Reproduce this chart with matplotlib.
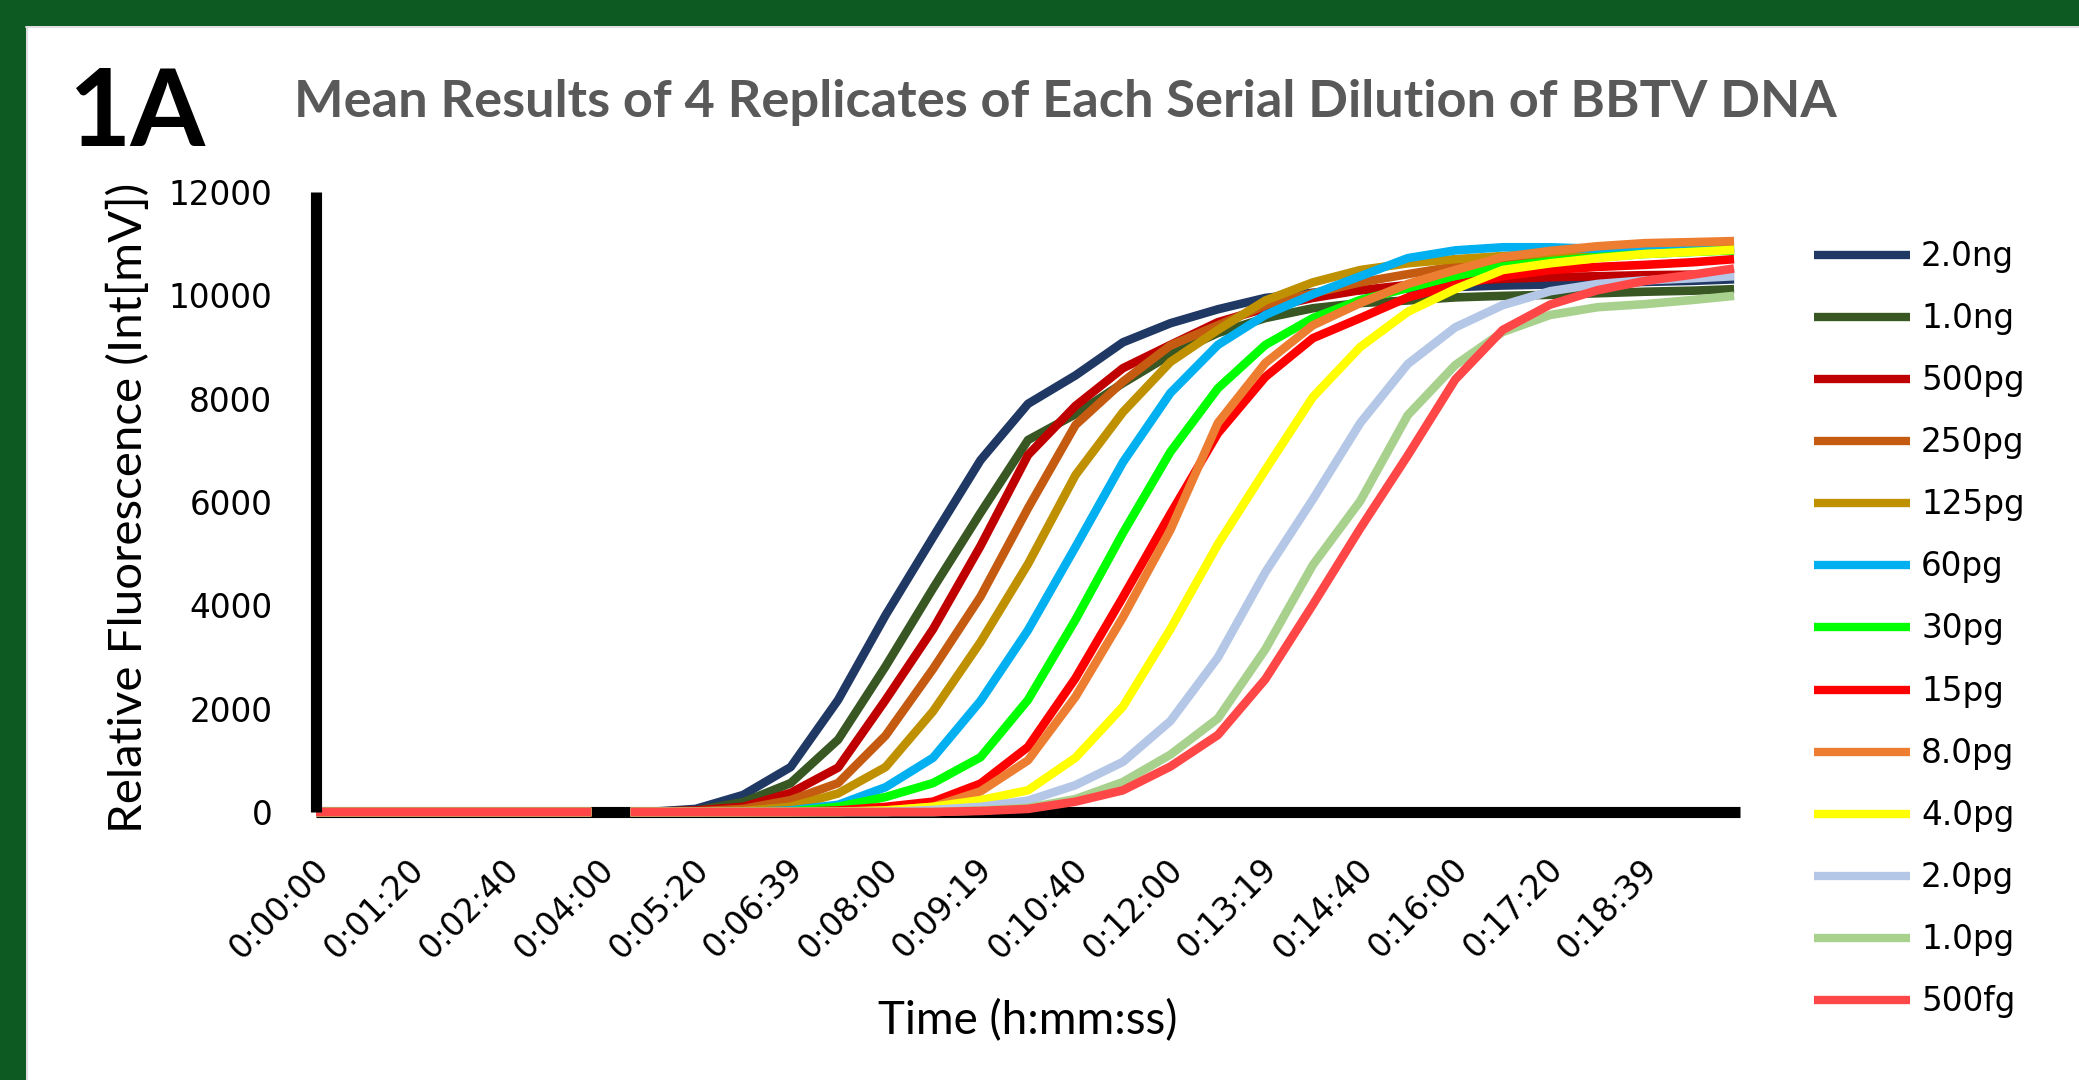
import numpy as np
import matplotlib
matplotlib.use("Agg")
import matplotlib.pyplot as plt
from matplotlib.transforms import ScaledTranslation
from matplotlib.lines import Line2D
from matplotlib.patches import Rectangle

nan = np.nan

# ---------------- data ----------------
time_s = [0, 40, 80, 120, 160, 200, 232, 248, 265, 280, 320, 360, 400, 440, 480,
          520, 560, 600, 640, 680, 720, 760, 800, 840, 880, 920, 960, 1000, 1040,
          1080, 1120, 1160, 1195]

s_2ng = [0, 0, 0, 0, 0, 0, 0, nan, 0, 0, 60, 330, 870, 2170, 3810, 5320, 6810, 7900, 8450,
         9090, 9460, 9730, 9950, 10050, 10100, 10130, 10160, 10190, 10210, 10240, 10260, 10280, 10310]
s_1ng = [0, 0, 0, 0, 0, 0, 0, nan, 0, 0, 30, 190, 560, 1400, 2820, 4330, 5790, 7200, 7700,
         8300, 8850, 9270, 9560, 9750, 9850, 9900, 9960, 9990, 10010, 10040, 10070, 10090, 10120]
s_500pg = [0, 0, 0, 0, 0, 0, 0, nan, 0, 0, 30, 100, 370, 860, 2170, 3540, 5150, 6910, 7860,
           8590, 9040, 9480, 9750, 9950, 10100, 10200, 10270, 10320, 10350, 10370, 10390, 10400, 10410]
s_250pg = [0, 0, 0, 0, 0, 0, 0, nan, 0, 0, 10, 60, 230, 560, 1480, 2770, 4170, 5880, 7490,
           8330, 9030, 9420, 9810, 10040, 10250, 10410, 10560, 10660, 10740, 10800, 10840, 10870, 10900]
s_125pg = [0, 0, 0, 0, 0, 0, 0, nan, 0, 0, 0, 20, 100, 360, 870, 1950, 3290, 4800, 6520,
           7740, 8710, 9330, 9900, 10250, 10490, 10620, 10700, 10760, 10820, 10860, 10890, 10920, 10950]
s_60pg = [0, 0, 0, 0, 0, 0, 0, nan, 0, 0, 0, 0, 30, 140, 480, 1050, 2150, 3520, 5130,
          6770, 8110, 9040, 9620, 10020, 10370, 10720, 10870, 10930, 10930, 10900, 10880, 10870, 10860]
s_30pg = [0, 0, 0, 0, 0, 0, 0, nan, 0, 0, 0, 0, 10, 100, 290, 560, 1060, 2170, 3720,
          5400, 6970, 8200, 9040, 9560, 9910, 10140, 10370, 10560, 10660, 10740, 10800, 10840, 10870]
s_15pg = [0, 0, 0, 0, 0, 0, 0, nan, 0, 0, 0, 0, 0, 30, 100, 200, 550, 1260, 2590,
          4160, 5770, 7330, 8420, 9170, 9560, 9960, 10200, 10370, 10490, 10550, 10590, 10640, 10700]
s_8pg = [0, 0, 0, 0, 0, 0, 0, nan, 0, 0, 0, 0, 0, 10, 30, 100, 400, 1000, 2230,
         3770, 5460, 7530, 8690, 9420, 9850, 10220, 10490, 10740, 10860, 10950, 11010, 11030, 11050]
s_4pg = [0, 0, 0, 0, 0, 0, 0, nan, 0, 0, 0, 0, 0, 0, 30, 100, 230, 420, 1050,
         2040, 3540, 5180, 6620, 8030, 9000, 9680, 10120, 10490, 10620, 10720, 10800, 10840, 10880]
s_2pg = [0, 0, 0, 0, 0, 0, 0, nan, 0, 0, 0, 0, 0, 0, 0, 40, 100, 220, 520,
         970, 1760, 2990, 4640, 6050, 7530, 8670, 9380, 9810, 10080, 10220, 10290, 10330, 10370]
s_1pg = [0, 0, 0, 0, 0, 0, 0, nan, 0, 0, 0, 0, 0, 0, 0, 0, 30, 80, 250,
         580, 1110, 1810, 3150, 4780, 6020, 7680, 8650, 9290, 9620, 9770, 9830, 9910, 9990]
s_500fg = [0, 0, 0, 0, 0, 0, 0, nan, 0, 0, 0, 0, 0, 0, 0, 0, 20, 60, 200,
           420, 880, 1490, 2570, 4010, 5490, 6900, 8370, 9330, 9820, 10100, 10280, 10400, 10520]

series_names = ["2.0ng", "1.0ng", "500pg", "250pg", "125pg", "60pg", "30pg",
                "15pg", "8.0pg", "4.0pg", "2.0pg", "1.0pg", "500fg"]
series_values = [s_2ng, s_1ng, s_500pg, s_250pg, s_125pg, s_60pg, s_30pg,
                 s_15pg, s_8pg, s_4pg, s_2pg, s_1pg, s_500fg]
series_colors = ["#203864", "#385723", "#C00000", "#C55A11", "#BF9000", "#00B0F0",
                 "#00FF00", "#FF0000", "#ED7D31", "#FFFF00", "#B4C7E7", "#A9D18E", "#FF4747"]

x_tick_labels = ["0:00:00", "0:01:20", "0:02:40", "0:04:00", "0:05:20", "0:06:39",
                 "0:08:00", "0:09:19", "0:10:40", "0:12:00", "0:13:19", "0:14:40",
                 "0:16:00", "0:17:20", "0:18:39"]
y_ticks = [0, 2000, 4000, 6000, 8000, 10000, 12000]

title = "Mean Results of 4 Replicates of Each Serial Dilution of BBTV DNA"
panel = "1A"
x_label = "Time (h:mm:ss)"
y_label = "Relative Fluorescence (Int[mV])"

# ---------------- figure ----------------
W, H = 2079, 1080
plt.rcParams["font.family"] = ["DejaVu Sans"]
fig = plt.figure(figsize=(W / 100, H / 100), dpi=100, facecolor="white")

def fx(px):
    return px / W

def fy(py):
    return 1 - py / H

# green frame
green = "#0E5A23"
fig.add_artist(Rectangle((0, fy(26)), 1, 26 / H, transform=fig.transFigure,
                         facecolor=green, edgecolor="none", zorder=0))
fig.add_artist(Rectangle((0, 0), 26 / W, 1, transform=fig.transFigure,
                         facecolor=green, edgecolor="none", zorder=0))
fig.add_artist(Line2D([fx(26), 1], [fy(27), fy(27)], color="#d9d9d9", lw=1.2))
fig.add_artist(Line2D([fx(27), fx(27)], [0, fy(27)], color="#d9d9d9", lw=1.2))

ax = fig.add_axes([fx(316), fy(812), (1740 - 316) / W, (812 - 192) / H])
ax.set_facecolor("none")
ax.set_xlim(0, 1200)
ax.set_ylim(0, 12000)

t = np.array(time_s, dtype=float)
for name, vals, col in zip(series_names, series_values, series_colors):
    ax.plot(t, np.array(vals, dtype=float), color=col, lw=6.2, label=name,
            solid_capstyle="butt", solid_joinstyle="round", clip_on=False, zorder=3)

for s in ("top", "right"):
    ax.spines[s].set_visible(False)
for s in ("left", "bottom"):
    ax.spines[s].set_linewidth(8)
    ax.spines[s].set_capstyle("butt")
ax.spines["left"].set_zorder(4)
ax.spines["bottom"].set_zorder(2)

def to_sec(s):
    h, m, sec = s.split(":")
    return int(h) * 3600 + int(m) * 60 + int(sec)

ax.set_yticks(y_ticks)
ax.set_yticklabels([str(v) for v in y_ticks])
ax.set_xticks([to_sec(s) for s in x_tick_labels])
ax.set_xticklabels(x_tick_labels)
ax.tick_params(axis="both", length=0, labelsize=23.5, colors="black")
ax.tick_params(axis="y", pad=31.5)
ax.tick_params(axis="x", pad=37.4)
off = ScaledTranslation(8 / 100, 0, fig.dpi_scale_trans)
for lab in ax.get_xticklabels():
    lab.set_rotation(45)
    lab.set_ha("right")
    lab.set_va("center")
    lab.set_rotation_mode("anchor")
    lab.set_transform(lab.get_transform() + off)

# texts
t_panel = fig.text(fx(69), fy(146), panel, ha="left", va="baseline",
                   fontsize=80, fontweight="bold", family=["Lato", "DejaVu Sans"], color="black")
t_title = fig.text(fx(1065), fy(117), title, ha="center", va="baseline",
                   fontsize=30, fontweight="bold", family=["Lato", "DejaVu Sans"], color="#595959")
t_ylab = fig.text(fx(128), fy(508), y_label, ha="center", va="center", rotation=90,
                  fontsize=26, family=["Lato", "DejaVu Sans"], color="black")
t_xlab = fig.text(fx(1028), fy(1021), x_label, ha="center", va="center",
                  fontsize=26, family=["Lato", "DejaVu Sans"], color="black")

# legend (manual, at right)
for i, (name, col) in enumerate(zip(series_names, series_colors)):
    yy = 255 + 62.08 * i
    fig.add_artist(Line2D([fx(1814), fx(1910)], [fy(yy), fy(yy)], color=col, lw=6,
                          solid_capstyle="butt"))
    fig.text(fx(1921), fy(yy + 11), name, ha="left", va="baseline", fontsize=23.5,
             color="black")

# fit text sizes to measured extents
fig.canvas.draw()
r = fig.canvas.get_renderer()

def fit(txt, target, dim="w"):
    for _ in range(3):
        bb = txt.get_window_extent(r)
        cur = bb.width if dim == "w" else bb.height
        txt.set_fontsize(txt.get_fontsize() * target / cur)

fit(t_panel, 137)
fit(t_title, 1542)
fit(t_ylab, 650, "h")
fit(t_xlab, 299)

fig.savefig("out.png", dpi=100, facecolor="white")
